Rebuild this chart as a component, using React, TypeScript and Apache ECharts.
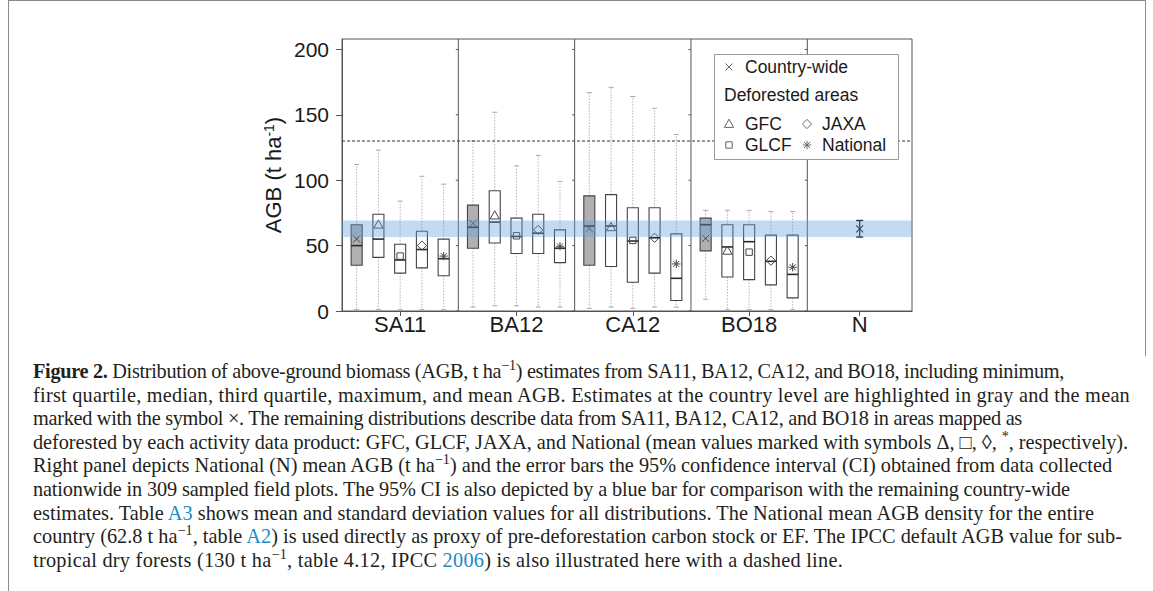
import React, { useEffect, useLayoutEffect, useRef } from "react";
import * as echarts from "echarts";

// ---------- DATA ----------
const categories = ["SA11", "BA12", "CA12", "BO18", "N"];
const distributions = ["Country-wide", "GFC", "GLCF", "JAXA", "National"];
// each row: [min, q1, median, q3, max, mean]; order follows `distributions`
const sa11Stats = [
  [1, 35, 50, 66, 112, 55],
  [1, 41, 55, 74, 123, 66],
  [1, 29, 39, 51, 84, 42],
  [1, 33, 47, 61, 103, 50],
  [1, 27, 40, 55, 97, 42],
];
const ba12Stats = [
  [3, 48, 64, 81, 130, 67],
  [4, 52, 68, 92, 152, 73],
  [4, 44, 57, 71, 111, 57.5],
  [3, 44, 59.5, 74, 119, 62],
  [3, 37, 48, 62, 99, 49.5],
];
const ca12Stats = [
  [2, 35, 65, 88, 167, 63],
  [3, 34, 65, 89, 171, 64],
  [2, 22, 53.5, 79, 164, 54],
  [3, 29, 56, 79, 155, 56],
  [3, 8, 25, 59, 135, 36],
];
const bo18Stats = [
  [9, 46, 66, 71, 77, 55.5],
  [1, 26, 49, 66, 77, 46],
  [1, 24, 53, 66, 77, 45],
  [1, 20, 38, 58, 76, 38.5],
  [1, 10, 28, 58, 76, 33.5],
];
const nationalMean = 62.8;
const nationalCI95 = [56.6, 69.2];
const ipccDefaultAGB = 130;
const yTicks = [0, 50, 100, 150, 200];

// ---------- LAYOUT (not data) ----------
const PANEL_WIDTHS = [1, 1, 1, 1, 0.9];
const SLOT = 0.187;
const BOX_W = 0.095;
const FONT = "'Liberation Sans', Arial, Helvetica, sans-serif";
const TXT = "#1a1a1a";
const LINE = "#444";

const panelStarts: number[] = [];
PANEL_WIDTHS.reduce((acc, w) => {
  panelStarts.push(acc);
  return acc + w;
}, 0);
const panelCenters = panelStarts.map((s, i) => s + PANEL_WIDTHS[i] / 2);
const xMax = PANEL_WIDTHS.reduce((a, b) => a + b, 0);
const dividers = panelStarts.slice(1);

const allStats = [sa11Stats, ba12Stats, ca12Stats, bo18Stats];
const boxData: number[][] = [];
allStats.forEach((stats, ci) => {
  stats.forEach((row, k) => {
    boxData.push([panelCenters[ci] + (k - 2) * SLOT, ...row, k, k === 0 ? 1 : 0]);
  });
});

function symbolEls(kind: number, cx: number, cy: number, stroke: string, lw = 1, z?: number) {
  const st = { stroke, lineWidth: lw, fill: "none" };
  const zz = z !== undefined ? { z } : {};
  const ln = (x1: number, y1: number, x2: number, y2: number) => ({
    type: "line",
    shape: { x1, y1, x2, y2 },
    style: { ...st },
    ...zz,
  });
  if (kind === 0) {
    const r = 3.5;
    return [ln(cx - r, cy - r, cx + r, cy + r), ln(cx - r, cy + r, cx + r, cy - r)];
  }
  if (kind === 1) {
    return [
      {
        type: "polygon",
        shape: { points: [[cx, cy - 4.8], [cx + 4.6, cy + 3.4], [cx - 4.6, cy + 3.4]] },
        style: { ...st },
        ...zz,
      },
    ];
  }
  if (kind === 2) {
    return [{ type: "rect", shape: { x: cx - 3.2, y: cy - 3.2, width: 6.4, height: 6.4 }, style: { ...st }, ...zz }];
  }
  if (kind === 3) {
    return [
      {
        type: "polygon",
        shape: { points: [[cx, cy - 4.6], [cx + 4.6, cy], [cx, cy + 4.6], [cx - 4.6, cy]] },
        style: { ...st },
        ...zz,
      },
    ];
  }
  const r = 4.2;
  const d = 3;
  return [
    ln(cx, cy - r, cx, cy + r),
    ln(cx - r, cy, cx + r, cy),
    ln(cx - d, cy - d, cx + d, cy + d),
    ln(cx - d, cy + d, cx + d, cy - d),
  ];
}

function renderBox(params: any, api: any) {
  const x = api.value(0);
  const mn = api.value(1), q1 = api.value(2), md = api.value(3), q3 = api.value(4), mx = api.value(5);
  const mean = api.value(6);
  const kind = api.value(7);
  const gray = api.value(8) === 1;
  const bw = api.size([BOX_W, 0])[0];
  const cx = api.coord([x, 0])[0];
  const y = (v: number) => api.coord([x, v])[1];
  const wh = { stroke: "#b4b4b4", lineWidth: 1, lineDash: [1.5, 1.5] };
  const cap = { stroke: "#a8a8a8", lineWidth: 1 };
  const children: any[] = [
    { type: "line", shape: { x1: cx, y1: y(q3), x2: cx, y2: y(mx) }, style: wh },
    { type: "line", shape: { x1: cx, y1: y(q1), x2: cx, y2: y(mn) }, style: wh },
    { type: "line", shape: { x1: cx - 2.5, y1: y(mx), x2: cx + 2.5, y2: y(mx) }, style: cap },
    { type: "line", shape: { x1: cx - 2.5, y1: y(mn), x2: cx + 2.5, y2: y(mn) }, style: cap },
    {
      type: "rect",
      shape: { x: cx - bw / 2, y: y(q3), width: bw, height: y(q1) - y(q3) },
      style: { fill: gray ? "#b0b0b0" : "#ffffff", stroke: LINE, lineWidth: 1.1 },
    },
    {
      type: "line",
      shape: { x1: cx - bw / 2, y1: y(md), x2: cx + bw / 2, y2: y(md) },
      style: { stroke: "#2a2a2a", lineWidth: 1.6 },
    },
    ...symbolEls(kind, cx, y(mean), LINE, 1),
  ];
  return { type: "group", children };
}

function renderBand(params: any, api: any) {
  const cs = params.coordSys;
  const top = api.coord([0, api.value(2)])[1];
  const bottom = api.coord([0, api.value(1)])[1];
  return {
    type: "rect",
    shape: { x: cs.x, y: top, width: cs.width, height: bottom - top },
    style: { fill: "rgba(95,160,222,0.38)" },
  };
}

function renderHLine(params: any, api: any) {
  const cs = params.coordSys;
  const yy = api.coord([0, api.value(1)])[1];
  return {
    type: "line",
    shape: { x1: cs.x, y1: yy, x2: cs.x + cs.width, y2: yy },
    style: { stroke: "#333", lineWidth: 1, lineDash: [3, 2] },
  };
}

function renderDivider(params: any, api: any) {
  const cs = params.coordSys;
  const xx = api.coord([api.value(0), 0])[0];
  const st = { stroke: "#555", lineWidth: 1 };
  const ticks = yTicks.map((t) => {
    const ty = api.coord([0, t])[1];
    return { type: "line", shape: { x1: xx - 2.5, y1: ty, x2: xx, y2: ty }, style: st };
  });
  return {
    type: "group",
    children: [{ type: "line", shape: { x1: xx, y1: cs.y, x2: xx, y2: cs.y + cs.height }, style: st }, ...ticks],
  };
}

function renderErrorBar(params: any, api: any) {
  const cx = api.coord([api.value(0), 0])[0];
  const lo = api.coord([0, api.value(1)])[1];
  const hi = api.coord([0, api.value(2)])[1];
  const m = api.coord([0, api.value(3)])[1];
  const st = { stroke: "#222", lineWidth: 1.4 };
  return {
    type: "group",
    children: [
      { type: "line", shape: { x1: cx, y1: lo, x2: cx, y2: hi }, style: st },
      { type: "line", shape: { x1: cx - 3.5, y1: lo, x2: cx + 3.5, y2: lo }, style: st },
      { type: "line", shape: { x1: cx - 3.5, y1: hi, x2: cx + 3.5, y2: hi }, style: st },
      ...symbolEls(0, cx, m, "#222", 1.2),
    ],
  };
}

function legendGraphics() {
  const Z = 100;
  const els: any[] = [
    {
      type: "rect",
      z: Z,
      shape: { x: 714.5, y: 54.5, width: 184, height: 105 },
      style: { fill: "#fff", stroke: "#999", lineWidth: 1 },
    },
  ];
  const tx = (text: string, x: number, y: number) => ({
    type: "text",
    z: Z + 1,
    x,
    y,
    style: { text, fontSize: 17.5, fontFamily: FONT, fill: TXT, verticalAlign: "middle", align: "left" },
  });
  els.push(tx(distributions[0], 745, 67));
  els.push(tx("Deforested areas", 724, 95));
  els.push(tx(distributions[1], 745, 124));
  els.push(tx(distributions[3], 822, 124));
  els.push(tx(distributions[2], 745, 145));
  els.push(tx(distributions[4], 822, 145));
  [
    [0, 729, 67],
    [1, 729, 124],
    [3, 807, 124],
    [2, 729, 145],
    [4, 807, 145],
  ].forEach(([k, x, y]) => els.push(...symbolEls(k, x, y, "#666", 1, Z + 1)));
  return els;
}

function frameGraphics() {
  const st = { stroke: "#8a8a8a", lineWidth: 1 };
  return [
    { type: "line", z: 1, shape: { x1: 8.5, y1: 0.5, x2: 1145.5, y2: 0.5 }, style: st },
    { type: "line", z: 1, shape: { x1: 8.5, y1: 0, x2: 8.5, y2: 591 }, style: st },
    { type: "line", z: 1, shape: { x1: 1145.5, y1: 0, x2: 1145.5, y2: 356 }, style: st },
  ];
}

function Chart() {
  const ref = useRef<HTMLDivElement>(null);
  useEffect(() => {
    if (!ref.current) return;
    const chart = echarts.init(ref.current, undefined, { renderer: "svg" });
    chart.setOption({
      animation: false,
      backgroundColor: "#fff",
      grid: {
        left: 342,
        top: 39,
        width: 570,
        height: 272,
        show: true,
        borderColor: "#555",
        borderWidth: 1,
        containLabel: false,
        outerBoundsMode: "none",
      },
      xAxis: {
        type: "value",
        min: 0,
        max: xMax,
        splitLine: { show: false },
        axisLine: { show: true, lineStyle: { color: "#555" } },
        axisTick: { show: true, length: 5, customValues: panelCenters, lineStyle: { color: "#555" } },
        axisLabel: {
          customValues: panelCenters,
          formatter: (v: number) => {
            const i = panelCenters.findIndex((c) => Math.abs(c - v) < 1e-6);
            return i >= 0 ? categories[i] : "";
          },
          fontSize: 22,
          fontFamily: FONT,
          color: TXT,
          margin: 2,
        },
      },
      yAxis: {
        type: "value",
        min: 0,
        max: 208,
        splitLine: { show: false },
        axisLine: { show: true, lineStyle: { color: "#555" } },
        axisTick: { show: true, length: 6, customValues: yTicks, lineStyle: { color: "#555" } },
        axisLabel: { customValues: yTicks, fontSize: 21, fontFamily: FONT, color: TXT, margin: 13 },
        name: "{a|AGB (t ha}{s|-1}{a|)}",
        nameLocation: "middle",
        nameGap: 58,
        nameTextStyle: {
          rich: {
            a: { fontSize: 22, fontFamily: FONT, color: TXT },
            s: { fontSize: 14, fontFamily: FONT, color: TXT, verticalAlign: "top" },
          },
        },
      },
      graphic: [...frameGraphics(), ...legendGraphics()],
      series: [
        { type: "custom", z: 2, renderItem: renderDivider, data: dividers.map((d) => [d, 0]), silent: true },
        { type: "custom", z: 3, renderItem: renderBox, data: boxData, silent: true },
        { type: "custom", z: 3, renderItem: renderHLine, data: [[0, ipccDefaultAGB]], silent: true },
        {
          type: "custom",
          z: 3,
          renderItem: renderErrorBar,
          data: [[panelCenters[4], nationalCI95[0], nationalCI95[1], nationalMean]],
          silent: true,
        },
        {
          type: "custom",
          z: 5,
          renderItem: renderBand,
          data: [[0, nationalCI95[0], nationalCI95[1]]],
          silent: true,
        },
      ],
    });
    return () => chart.dispose();
  }, []);
  return <div ref={ref} style={{ position: "absolute", left: 0, top: 0, width: 1153, height: 591 }} />;
}

const link = { color: "#1b8ac6" };
const sup = { fontSize: "0.7em", lineHeight: 0, verticalAlign: "0.55em" } as React.CSSProperties;

const captionLines: React.ReactNode[] = [
  <>
    <b>Figure 2.</b> Distribution of above-ground biomass (AGB, t ha<span style={sup}>−1</span>) estimates from SA11, BA12,
    CA12, and BO18, including minimum,
  </>,
  <>
    first quartile, median, third quartile, maximum, and mean AGB. Estimates at the country level are highlighted in gray
    and the mean
  </>,
  <>
    marked with the symbol ×. The remaining distributions describe data from SA11, BA12, CA12, and BO18 in areas mapped
    as
  </>,
  <>
    deforested by each activity data product: GFC, GLCF, JAXA, and National (mean values marked with symbols Δ, □, ◊,{" "}
    <span style={sup}>*</span>, respectively).
  </>,
  <>
    Right panel depicts National (N) mean AGB (t ha<span style={sup}>−1</span>) and the error bars the 95% confidence
    interval (CI) obtained from data collected
  </>,
  <>
    nationwide in 309 sampled field plots. The 95% CI is also depicted by a blue bar for comparison with the remaining
    country-wide
  </>,
  <>
    estimates. Table <span style={link}>A3</span> shows mean and standard deviation values for all distributions. The
    National mean AGB density for the entire
  </>,
  <>
    country (62.8 t ha<span style={sup}>−1</span>, table <span style={link}>A2</span>) is used directly as proxy of
    pre-deforestation carbon stock or EF. The IPCC default AGB value for sub-
  </>,
  <>
    tropical dry forests (130 t ha<span style={sup}>−1</span>, table 4.12, IPCC <span style={link}>2006</span>) is also
    illustrated here with a dashed line.
  </>,
];
// right edge (page px) of each caption line in the reference
const captionLineEnds = [1064, 1130, 1022, 1128, 1112, 1070, 1094, 1122, 843];
const CAPTION_LEFT = 33;

function Caption() {
  const refs = useRef<(HTMLSpanElement | null)[]>([]);
  useLayoutEffect(() => {
    const fit = () => {
      refs.current.forEach((el, i) => {
        if (!el) return;
        el.style.letterSpacing = "0px";
        const w = el.getBoundingClientRect().width;
        const n = Math.max(1, (el.textContent || "").length);
        const target = captionLineEnds[i] - CAPTION_LEFT;
        const ls = Math.max(-0.6, Math.min(0.8, (target - w) / n));
        el.style.letterSpacing = ls.toFixed(3) + "px";
      });
    };
    fit();
    if ((document as any).fonts && (document as any).fonts.ready) {
      (document as any).fonts.ready.then(fit);
    }
  }, []);
  return (
    <div
      style={{
        position: "absolute",
        left: CAPTION_LEFT,
        top: 360,
        fontFamily: "'Liberation Serif', 'DejaVu Serif', serif",
        fontSize: 20.3,
        lineHeight: "23.6px",
        color: "#231f20",
        whiteSpace: "nowrap",
      }}
    >
      {captionLines.map((l, i) => (
        <div key={i}>
          <span ref={(el) => { refs.current[i] = el; }}>{l}</span>
        </div>
      ))}
    </div>
  );
}

export default function App() {
  return (
    <div style={{ position: "absolute", left: 0, top: 0, width: 1153, height: 591, background: "#fff", overflow: "hidden" }}>
      <Chart />
      <Caption />
    </div>
  );
}
